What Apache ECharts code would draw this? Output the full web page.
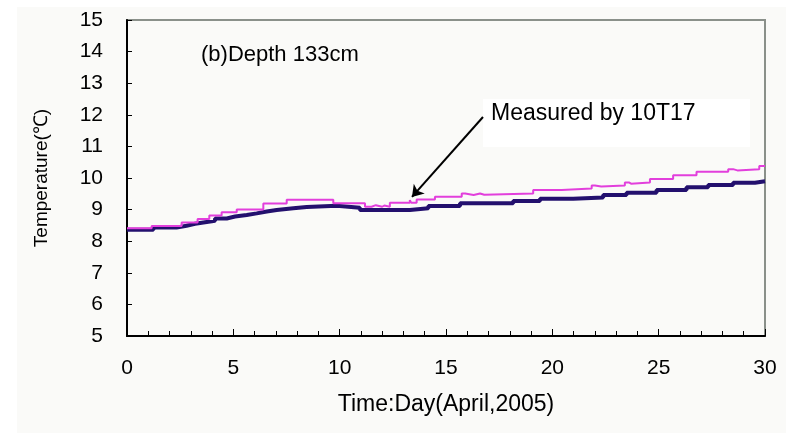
<!DOCTYPE html>
<html>
<head>
<meta charset="utf-8">
<script src="https://cdn.jsdelivr.net/npm/echarts@6/dist/echarts.min.js"></script>
<style>
html,body{margin:0;padding:0;background:#ffffff;}
#c{width:786px;height:433px;}
</style>
</head>
<body>
<div id="c"></div>
<script>
// Measured by 10T17 (magenta) : day, temperature
const measuredDays = [0, 1.16, 2.57, 3.32, 3.87, 4.45, 5.16, 6.41, 7.51, 9.7, 11.19, 11.5, 11.7, 12.0, 12.1, 12.36, 13.3, 13.36, 13.62, 14.48, 15.74, 15.9, 16.3, 16.6, 16.8, 19.1, 20.44, 21.85, 22.0, 22.3, 23.41, 23.6, 23.7, 24.59, 25.68, 26.78, 28.27, 28.5, 28.7, 29.73, 30];
const measuredTemps = [8.41, 8.48, 8.59, 8.70, 8.81, 8.92, 9.0, 9.19, 9.31, 9.2, 9.09, 9.14, 9.09, 9.13, 9.09, 9.22, 9.3, 9.22, 9.32, 9.41, 9.51, 9.46, 9.51, 9.47, 9.51, 9.62, 9.67, 9.76, 9.73, 9.76, 9.86, 9.82, 9.86, 9.97, 10.09, 10.2, 10.28, 10.24, 10.28, 10.38, 10.38];
// Second (navy) series : day, temperature
const otherDays = [0, 1.24, 2.33, 2.8, 3.2, 3.67, 4.14, 4.69, 5.08, 5.63, 6.1, 6.57, 7.04, 7.82, 8.45, 9.86, 10.95, 13.3, 14.17, 15.66, 18.16, 19.42, 20.98, 22.39, 23.49, 24.9, 26.31, 27.33, 28.5, 29.53, 30];
const otherTemps = [8.36, 8.43, 8.49, 8.55, 8.6, 8.65, 8.72, 8.78, 8.83, 8.88, 8.94, 8.99, 9.04, 9.08, 9.12, 9.06, 8.99, 9.04, 9.11, 9.2, 9.27, 9.34, 9.38, 9.46, 9.53, 9.62, 9.71, 9.78, 9.85, 9.9, 9.9];
// Annotation arrow: from [day, temp] to [day, temp]
const arrowFrom = [16.74, 11.93];
const arrowTo = [13.4, 9.4];
const panelLabel = '(b)Depth 133cm';
const noteLabel = 'Measured by 10T17';
const xTitle = 'Time:Day(April,2005)';
const yTitle = 'Temperature(\u2103)';

const zip = (a, b) => a.map((v, i) => [v, b[i]]);
const FONT = '"Liberation Sans", Arial, sans-serif';

const chart = echarts.init(document.getElementById('c'), null, {renderer: 'canvas'});
chart.setOption({
  animation: false,
  backgroundColor: '#ffffff',
  grid: {left: 127, right: 21, top: 20, bottom: 97, show: true, borderColor: '#8a908a', borderWidth: 2, backgroundColor: 'transparent'},
  xAxis: {
    type: 'value', min: 0, max: 30, interval: 5,
    name: xTitle, nameLocation: 'middle', nameGap: 57,
    nameTextStyle: {fontFamily: FONT, fontSize: 23, color: '#000'},
    axisLine: {show: true, onZero: false, lineStyle: {color: '#000', width: 2}},
    axisTick: {show: true, inside: true, length: 7, lineStyle: {color: '#000'}},
    minorTick: {show: true, splitNumber: 5, length: 5, lineStyle: {color: '#000'}},
    axisLabel: {fontFamily: FONT, fontSize: 21, color: '#000', margin: 22},
    splitLine: {show: false}
  },
  yAxis: {
    type: 'value', min: 5, max: 15, interval: 1,
    name: yTitle, nameLocation: 'middle', nameGap: 76, nameRotate: 90,
    nameTextStyle: {fontFamily: FONT, fontSize: 19, color: '#000'},
    axisLine: {show: true, onZero: false, lineStyle: {color: '#000', width: 2}},
    axisTick: {show: true, inside: true, length: 5, lineStyle: {color: '#000'}},
    axisLabel: {fontFamily: FONT, fontSize: 21, color: '#000', margin: 24},
    splitLine: {show: false}
  },
  graphic: [
    {type: 'rect', z: -100, silent: true, shape: {x: 17, y: 7, width: 769, height: 426}, style: {fill: '#fafaf8'}},
    {type: 'text', left: 201, top: 44, style: {text: panelLabel, font: '22px ' + FONT, fill: '#000'}},
    {type: 'rect', z: 5, silent: true, shape: {x: 483, y: 99, width: 267, height: 48}, style: {fill: '#ffffff'}},
    {type: 'text', z: 6, left: 491, top: 102, style: {text: noteLabel, font: '23px ' + FONT, fill: '#000'}}
  ],
  series: [
    {
      type: 'line', step: 'end', showSymbol: false, data: zip(otherDays, otherTemps),
      lineStyle: {color: '#23106e', width: 4}, z: 3
    },
    {
      type: 'line', step: 'end', showSymbol: false, data: zip(measuredDays, measuredTemps),
      lineStyle: {color: '#e23fdc', width: 2}, z: 4,
      markLine: {
        silent: true, symbol: ['none', 'arrow'], symbolSize: 11,
        label: {show: false},
        lineStyle: {color: '#000', width: 2, type: 'solid'},
        data: [[{coord: arrowFrom}, {coord: arrowTo}]]
      }
    }
  ]
});
</script>
</body>
</html>
